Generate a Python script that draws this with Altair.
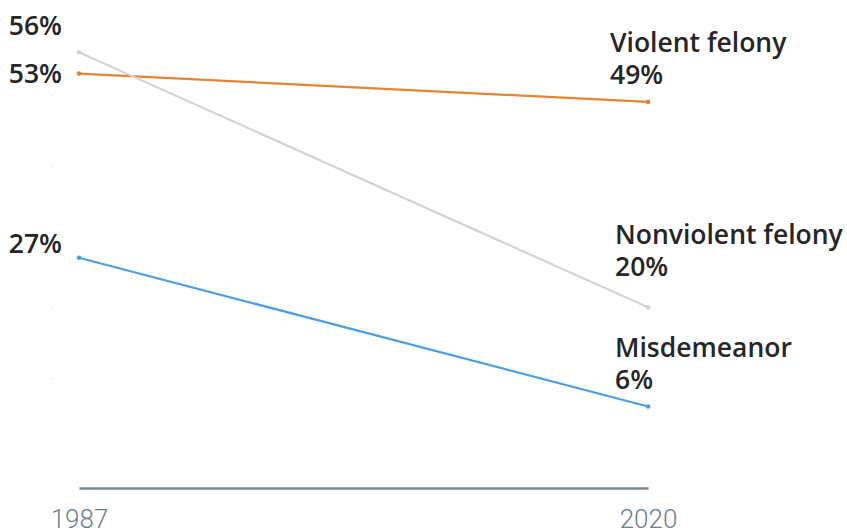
import altair as alt
import pandas as pd

series = ["Violent felony", "Nonviolent felony", "Misdemeanor"]
years = [1987, 2020]
values_1987 = [53, 56, 27]
values_2020 = [49, 20, 6]
line_colors = ["#e48535", "#d3d3d3", "#4c9fe2"]
point_colors = ["#d0661b", "#c4c4c4", "#1f74c8"]

rows = []
for s, a, b in zip(series, values_1987, values_2020):
    rows.append({"series": s, "year": years[0], "value": a, "label": f"{a}%"})
    rows.append({"series": s, "year": years[1], "value": b, "label": f"{b}%"})
df = pd.DataFrame(rows)

x = alt.X("year:Q", scale=alt.Scale(domain=[1987, 2020], nice=False, zero=False),
          axis=alt.Axis(values=years, format="d", title=None, grid=False, ticks=False,
                        domainColor="#7a8896", domainWidth=2.5, offset=39,
                        labelColor="#6e7e8c", labelFontSize=26, labelFont="Roboto",
                        labelFontWeight=300, labelPadding=18, labelFlush=False))
y = alt.Y("value:Q", scale=alt.Scale(domain=[0, 60], nice=False),
          axis=alt.Axis(values=[10, 20, 30, 40, 50], labels=False, title=None, grid=False,
                        domain=False, tickColor="#d8d8d8", tickSize=1, offset=27))

color = alt.Color("series:N", scale=alt.Scale(domain=series, range=line_colors), legend=None)
pcolor = alt.Color("series:N", scale=alt.Scale(domain=series, range=point_colors), legend=None)

base = alt.Chart(df)
lines = base.mark_line(strokeWidth=2.2).encode(x=x, y=y, color=color, detail="series:N")
points = base.mark_circle(size=22, opacity=1).encode(x=x, y=y, color=pcolor)

layers = [lines, points]

txt = dict(font="Open Sans", fontSize=26.5, fontWeight=600, color="#262626", baseline="middle")

left_dy = {"Violent felony": 1, "Nonviolent felony": -25, "Misdemeanor": -13}
for s in series:
    layers.append(
        base.transform_filter((alt.datum.series == s) & (alt.datum.year == 1987))
        .mark_text(align="right", dx=-17, dy=left_dy[s], **txt)
        .encode(x=x, y=y, text="label:N")
    )

right_off = {"Violent felony": (-38, -58, -26),
             "Nonviolent felony": (-33, -71, -39),
             "Misdemeanor": (-33, -58, -26)}
for s in series:
    dx, dy_name, dy_pct = right_off[s]
    sub = base.transform_filter((alt.datum.series == s) & (alt.datum.year == 2020))
    layers.append(sub.mark_text(align="left", dx=dx, dy=dy_name, **txt)
                  .encode(x=x, y=y, text="series:N"))
    layers.append(sub.mark_text(align="left", dx=dx, dy=dy_pct, **txt)
                  .encode(x=x, y=y, text="label:N"))

chart = alt.layer(*layers).properties(
    width=569, height=425,
    autosize=alt.AutoSizeParams(type="none"),
    padding={"left": 79, "top": 24, "right": 199, "bottom": 79},
).configure(background="white").configure_view(strokeWidth=0, stroke="transparent")

chart.save("out.html", embed_options={"renderer": "svg", "actions": False})
